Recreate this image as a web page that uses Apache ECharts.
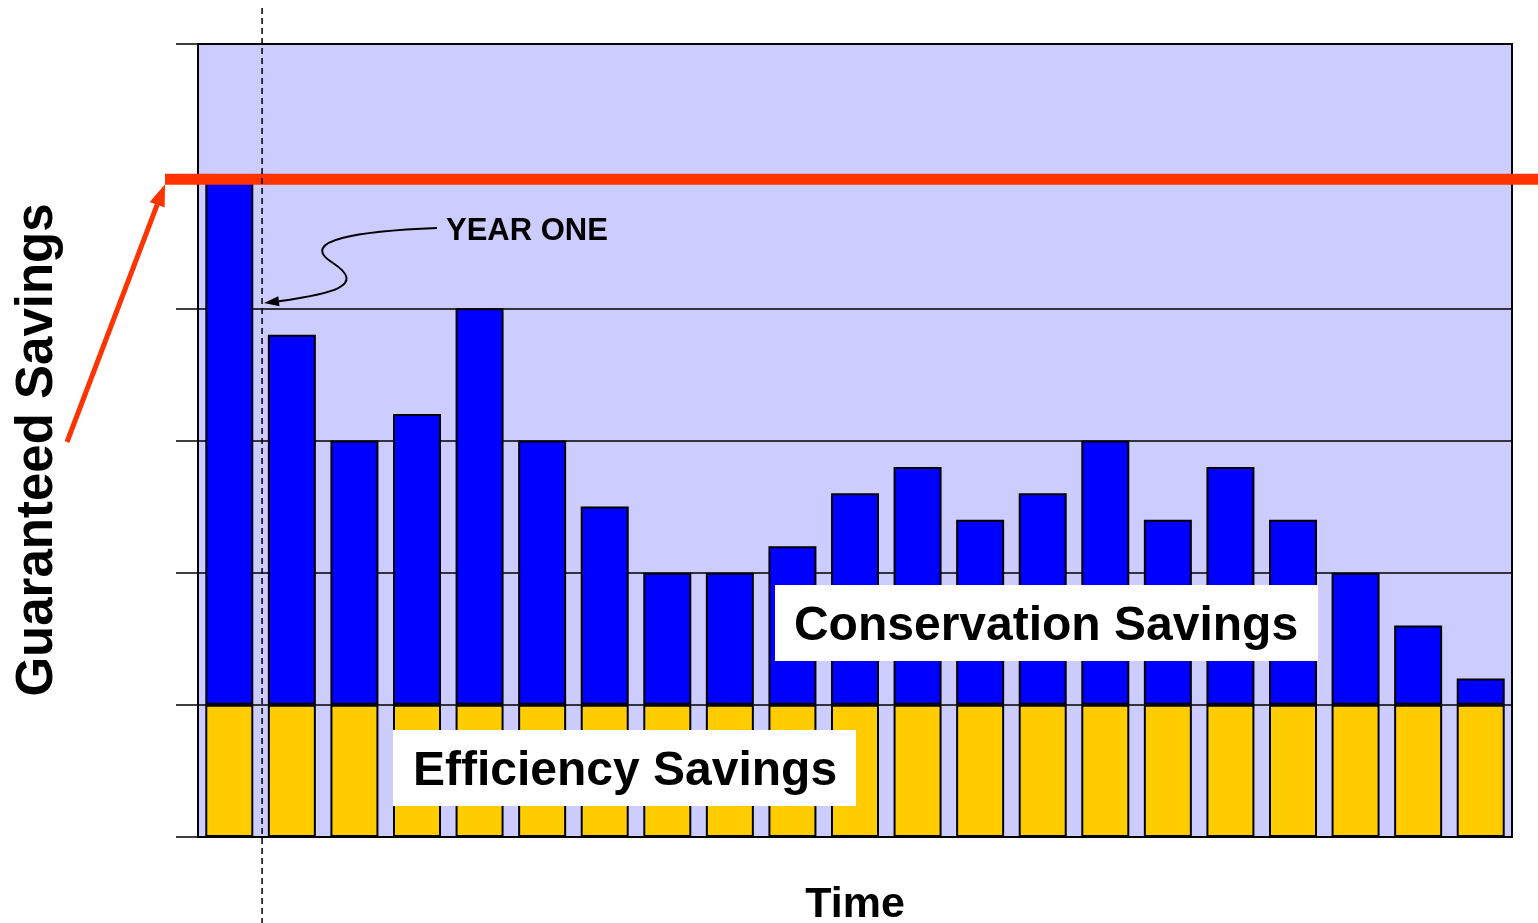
<!DOCTYPE html>
<html>
<head>
<meta charset="utf-8">
<script src="https://cdn.jsdelivr.net/npm/echarts@6/dist/echarts.min.js"></script>
<style>
  html, body { margin: 0; padding: 0; background: #fff; }
  #chart { width: 1538px; height: 923px; }
</style>
</head>
<body>
<div id="chart"></div>
<script>
// 年份类别（横轴不显示标签）
const years = ['1', '2', '3', '4', '5', '6', '7', '8', '9', '10', '11',
  '12', '13', '14', '15', '16', '17', '18', '19', '20', '21']
// 底部黄色：效率节省
const efficiency = [1, 1, 1, 1, 1, 1, 1, 1, 1, 1, 1, 1, 1, 1, 1, 1, 1, 1, 1, 1, 1]
// 顶部蓝色：节约节省
const conservation = [4, 2.8, 2, 2.2, 3, 2, 1.5, 1, 1, 1.2, 1.6, 1.8, 1.4, 1.6, 2, 1.4, 1.8, 1.4, 1, 0.6, 0.2]
// 保证节省水平
const guaranteed = 5
// 纵轴刻度
const yMin = 0
const yMax = 6
const yStep = 1

const FONT = '"Liberation Sans", Arial, sans-serif'

const chart = echarts.init(document.getElementById('chart'))
chart.setOption({
  animation: false,
  backgroundColor: '#fff',
  grid: {
    left: 198, top: 44, width: 1314, height: 793,
    outerBoundsMode: 'none',
    containLabel: false,
    show: true,
    backgroundColor: '#ccccff',
    borderColor: '#000',
    borderWidth: 2
  },
  xAxis: {
    type: 'category',
    data: years,
    axisLine: { lineStyle: { color: '#000', width: 2 } },
    axisTick: { show: false },
    axisLabel: { show: false },
    name: 'Time',
    nameLocation: 'middle',
    nameGap: 47,
    nameTextStyle: { color: '#000', fontSize: 43, fontWeight: 'bold', fontFamily: FONT }
  },
  yAxis: {
    type: 'value',
    min: yMin,
    max: yMax,
    interval: yStep,
    axisLine: { show: true, lineStyle: { color: '#000', width: 2 } },
    axisTick: { show: true, length: 22, lineStyle: { color: '#000', width: 1.5 } },
    axisLabel: { show: false },
    splitLine: { show: true, lineStyle: { color: '#000', width: 1.5 } },
    name: 'Guaranteed Savings',
    nameLocation: 'middle',
    nameGap: 135,
    nameTextStyle: { color: '#000', fontSize: 51, fontWeight: 'bold', fontFamily: FONT, padding: [0, 19, 0, 0] }
  },
  series: [
    {
      name: 'Efficiency Savings',
      type: 'bar',
      stack: 'total',
      barWidth: 48,
      data: efficiency,
      itemStyle: { color: '#ffcc00', borderColor: '#000', borderWidth: 2 }
    },
    {
      name: 'Conservation Savings',
      type: 'bar',
      stack: 'total',
      barWidth: 48,
      data: conservation,
      itemStyle: { color: '#0000ff', borderColor: '#000', borderWidth: 2 }
    }
  ]
})

// 箭头头部三角形
function arrowHead(tipX, tipY, fromX, fromY, len, halfW) {
  const dx = tipX - fromX, dy = tipY - fromY
  const d = Math.sqrt(dx * dx + dy * dy)
  const ux = dx / d, uy = dy / d
  const bx = tipX - ux * len, by = tipY - uy * len
  return {
    base: [bx, by],
    points: [[tipX, tipY], [bx - uy * halfW, by + ux * halfW], [bx + uy * halfW, by - ux * halfW]]
  }
}

// 用坐标轴换算注释位置
const yGuar = chart.convertToPixel({ yAxisIndex: 0 }, guaranteed) + 3
const x0 = chart.convertToPixel({ xAxisIndex: 0 }, years[0])
const x1 = chart.convertToPixel({ xAxisIndex: 0 }, years[1])
const xYearOne = (x0 + x1) / 2 + 1.5

const redTip = [165, yGuar + 5]
const redFrom = [67, 442]
const redHead = arrowHead(redTip[0], redTip[1], redFrom[0], redFrom[1], 22, 8)
const blackHead = arrowHead(264, 303, 330, 295, 15, 5)

chart.setOption({
  graphic: [
    // 保证节省红线
    {
      type: 'line', z: 100,
      shape: { x1: 165, y1: yGuar, x2: 1538, y2: yGuar },
      style: { stroke: '#ff3300', lineWidth: 11 }
    },
    // 红色箭头
    {
      type: 'line', z: 100,
      shape: { x1: redFrom[0], y1: redFrom[1], x2: redHead.base[0], y2: redHead.base[1] },
      style: { stroke: '#ff3300', lineWidth: 5 }
    },
    {
      type: 'polygon', z: 100,
      shape: { points: redHead.points },
      style: { fill: '#ff3300' }
    },
    // 第一年虚线
    {
      type: 'line', z: 110,
      shape: { x1: xYearOne, y1: 8, x2: xYearOne, y2: 923 },
      style: { stroke: '#000', lineWidth: 1.5, lineDash: [6, 4] }
    },
    // YEAR ONE 标注与弯曲箭头
    {
      type: 'text', z: 105,
      style: { text: 'YEAR ONE', x: 446, y: 231, verticalAlign: 'middle', fill: '#000', font: 'bold 31px ' + FONT }
    },
    {
      type: 'bezierCurve', z: 105,
      shape: { x1: 437, y1: 228, cpx1: 360, cpy1: 231, cpx2: 296, cpy2: 240, x2: 333, y2: 263 },
      style: { stroke: '#000', lineWidth: 2, fill: null }
    },
    {
      type: 'bezierCurve', z: 105,
      shape: { x1: 333, y1: 263, cpx1: 368, cpy1: 286, cpx2: 330, cpy2: 294, x2: blackHead.base[0], y2: blackHead.base[1] },
      style: { stroke: '#000', lineWidth: 2, fill: null }
    },
    {
      type: 'polygon', z: 105,
      shape: { points: blackHead.points },
      style: { fill: '#000' }
    },
    // 白底说明框
    {
      type: 'rect', z: 100,
      shape: { x: 775, y: 585, width: 543, height: 76 },
      style: { fill: '#fff' }
    },
    {
      type: 'text', z: 101,
      style: { text: 'Conservation Savings', x: 1046, y: 627, align: 'center', verticalAlign: 'middle', fill: '#000', font: 'bold 48px ' + FONT }
    },
    {
      type: 'rect', z: 100,
      shape: { x: 393, y: 730, width: 463, height: 76 },
      style: { fill: '#fff' }
    },
    {
      type: 'text', z: 101,
      style: { text: 'Efficiency Savings', x: 625, y: 772, align: 'center', verticalAlign: 'middle', fill: '#000', font: 'bold 48px ' + FONT }
    }
  ]
})

window.addEventListener('resize', () => chart.resize())
</script>
</body>
</html>
